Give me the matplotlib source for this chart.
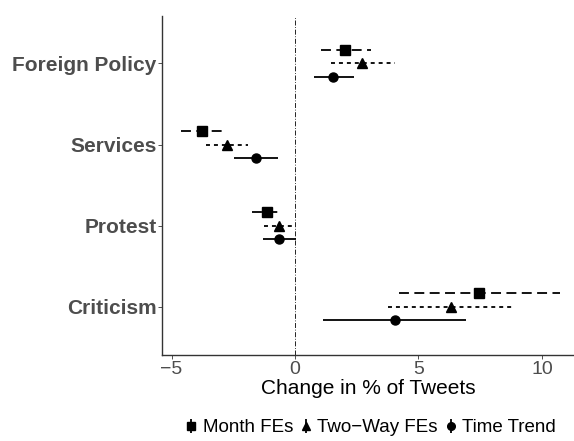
import numpy as np
import matplotlib
matplotlib.use("Agg")
from matplotlib import pyplot as plt
from matplotlib.lines import Line2D
from matplotlib.legend_handler import HandlerTuple

plt.rcParams['font.family'] = ['Liberation Sans', 'DejaVu Sans']

categories = ["Criticism", "Protest", "Services", "Foreign Policy"]
models = ["Month FEs", "Two\u2212Way FEs", "Time Trend"]

# estimates and 95% CI, ordered as categories (bottom to top)
month_est = [7.47, -1.14, -3.77, 2.04]
month_lo = [4.20, -1.76, -4.63, 1.05]
month_hi = [10.73, -0.53, -2.95, 3.07]

twoway_est = [6.32, -0.65, -2.76, 2.73]
twoway_lo = [3.77, -1.24, -3.59, 1.45]
twoway_hi = [8.87, -0.14, -1.92, 4.03]

trend_est = [4.04, -0.65, -1.57, 1.55]
trend_lo = [1.12, -1.31, -2.46, 0.76]
trend_hi = [6.93, 0.05, -0.68, 2.38]

fig = plt.figure(figsize=(5.74, 4.41), dpi=100)
ax = fig.add_axes([0.2822, 0.195, 0.7178, 0.7688])

y = np.arange(1, len(categories) + 1)
off = 0.17
series = [
    (month_est, month_lo, month_hi, off, 's', (0, (5.5, 3))),
    (twoway_est, twoway_lo, twoway_hi, 0, '^', (0, (2.2, 2.2))),
    (trend_est, trend_lo, trend_hi, -off, 'o', '-'),
]

ax.axvline(0, color='black', lw=0.6, ls=(0, (6, 2, 1, 2)), zorder=1)

for est, lo, hi, dy, mk, ls in series:
    yy = y + dy
    ax.hlines(yy, lo, hi, color='black', lw=1.3, linestyles=[ls], zorder=2)
    ax.plot(est, yy, ls='none', marker=mk, color='black', ms=6.5 if mk != '^' else 7, zorder=3)

ax.set_xlim(-5.39, 11.3)
ax.set_ylim(0.404, 4.586)
ax.set_xticks([-5, 0, 5, 10])
ax.set_xticklabels(["\u22125", "0", "5", "10"])
ax.set_yticks(y)
ax.set_yticklabels(categories, fontweight='bold')
ax.tick_params(axis='x', labelsize=14, labelcolor='#4D4D4D', length=3, width=0.6, color='#333333', pad=1)
ax.tick_params(axis='y', labelsize=15, labelcolor='#4D4D4D', length=3, width=0.6, color='#333333', pad=1)
ax.spines['top'].set_visible(False)
ax.spines['right'].set_visible(False)
for s in ['left', 'bottom']:
    ax.spines[s].set_linewidth(1.0)
    ax.spines[s].set_color('#333333')
ax.set_xlabel("Change in % of Tweets", fontsize=15, labelpad=1)

handles = []
for est, lo, hi, dy, mk, ls in series:
    bar = Line2D([], [], ls='none', marker='|', color='black', ms=10, mew=1.3)
    pt = Line2D([], [], ls='none', marker=mk, color='black', ms=5.5)
    handles.append((bar, pt))
leg = fig.legend(handles, models, loc='center', bbox_to_anchor=(0.647, 0.03),
                 ncol=3, frameon=False, fontsize=13.5, handlelength=0.5,
                 handletextpad=0.35, columnspacing=0.45,
                 handler_map={tuple: HandlerTuple(ndivide=1)})

fig.savefig("out.png", dpi=100)
